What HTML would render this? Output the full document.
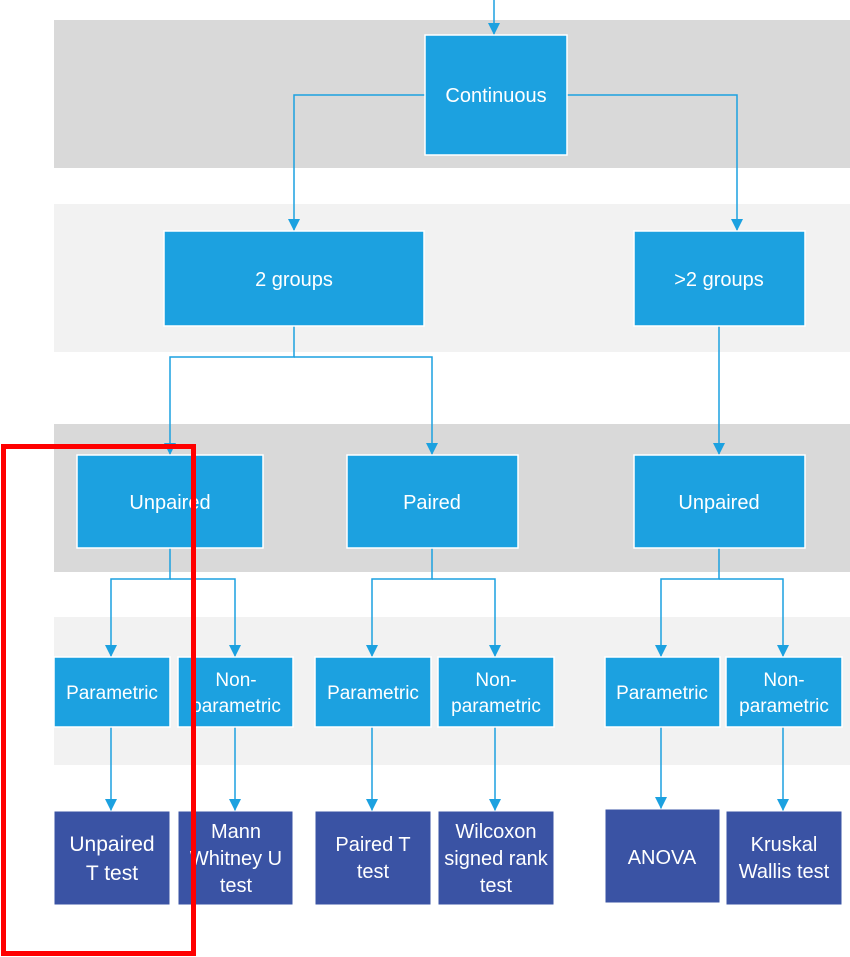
<!DOCTYPE html>
<html><head><meta charset="utf-8"><style>
html,body{margin:0;padding:0;background:#fff;}
svg{display:block;}
text{font-family:"Liberation Sans",sans-serif;font-size:20px;fill:#fff;text-anchor:middle;}
</style></head><body>
<svg width="850" height="957" viewBox="0 0 850 957" xmlns="http://www.w3.org/2000/svg">
<defs>
<marker id="a" viewBox="0 0 12 12" refX="12" refY="6" markerWidth="12" markerHeight="12" markerUnits="userSpaceOnUse" orient="auto">
<path d="M0,0 L12,6 L0,12 Z" fill="#1ca1e0"/>
</marker>
</defs>
<rect x="54" y="20" width="796" height="148" fill="#d9d9d9"/>
<rect x="54" y="204" width="796" height="148" fill="#f2f2f2"/>
<rect x="54" y="424" width="796" height="148" fill="#d9d9d9"/>
<rect x="54" y="617" width="796" height="148" fill="#f2f2f2"/>
<g fill="none" stroke="#1ca1e0" stroke-width="1.5">
<path d="M494,0 V35" marker-end="url(#a)"/>
<path d="M425,95 H294 V231" marker-end="url(#a)"/>
<path d="M567,95 H737 V231" marker-end="url(#a)"/>
<path d="M294,326 V357 H170 V455" marker-end="url(#a)"/>
<path d="M294,357 H432 V455" marker-end="url(#a)"/>
<path d="M719,326 V455" marker-end="url(#a)"/>
<path d="M170,548 V579 H111 V657" marker-end="url(#a)"/>
<path d="M170,579 H235 V657" marker-end="url(#a)"/>
<path d="M432,548 V579 H372 V657" marker-end="url(#a)"/>
<path d="M432,579 H495 V657" marker-end="url(#a)"/>
<path d="M719,548 V579 H661 V657" marker-end="url(#a)"/>
<path d="M719,579 H783 V657" marker-end="url(#a)"/>
<path d="M111,727 V811" marker-end="url(#a)"/>
<path d="M235,727 V811" marker-end="url(#a)"/>
<path d="M372,727 V811" marker-end="url(#a)"/>
<path d="M495,727 V811" marker-end="url(#a)"/>
<path d="M661,727 V809" marker-end="url(#a)"/>
<path d="M783,727 V811" marker-end="url(#a)"/>
</g>
<g fill="#1ca1e0" stroke="#fff" stroke-width="1.5">
<rect x="425" y="35" width="142" height="120"/>
<rect x="164" y="231" width="260" height="95"/>
<rect x="634" y="231" width="171" height="95"/>
<rect x="77" y="455" width="186" height="93"/>
<rect x="347" y="455" width="171" height="93"/>
<rect x="634" y="455" width="171" height="93"/>
<rect x="54" y="657" width="116" height="70"/>
<rect x="178" y="657" width="115" height="70"/>
<rect x="315" y="657" width="116" height="70"/>
<rect x="438" y="657" width="116" height="70"/>
<rect x="605" y="657" width="115" height="70"/>
<rect x="726" y="657" width="116" height="70"/>
</g>
<g fill="#3a53a4" stroke="#fff" stroke-width="1">
<rect x="54" y="811" width="116" height="94"/>
<rect x="178" y="811" width="115" height="94"/>
<rect x="315" y="811" width="116" height="94"/>
<rect x="438" y="811" width="116" height="94"/>
<rect x="605" y="809" width="115" height="94"/>
<rect x="726" y="811" width="116" height="94"/>
</g>
<text x="496" y="102">Continuous</text>
<text x="294" y="286">2 groups</text>
<text x="719" y="286">&gt;2 groups</text>
<text x="170" y="509">Unpaired</text>
<text x="432" y="509">Paired</text>
<text x="719" y="509">Unpaired</text>
<text x="112" y="699" style="font-size:19px">Parametric</text>
<text x="236" y="686" style="font-size:19px">Non-</text>
<text x="236" y="712" style="font-size:19px">parametric</text>
<text x="373" y="699" style="font-size:19px">Parametric</text>
<text x="496" y="686" style="font-size:19px">Non-</text>
<text x="496" y="712" style="font-size:19px">parametric</text>
<text x="662" y="699" style="font-size:19px">Parametric</text>
<text x="784" y="686" style="font-size:19px">Non-</text>
<text x="784" y="712" style="font-size:19px">parametric</text>
<text x="112" y="851" style="font-size:21px">Unpaired</text>
<text x="112" y="880" style="font-size:21px">T test</text>
<text x="236" y="838">Mann</text>
<text x="236" y="865">Whitney U</text>
<text x="236" y="892">test</text>
<text x="373" y="851">Paired T</text>
<text x="373" y="878">test</text>
<text x="496" y="838">Wilcoxon</text>
<text x="496" y="865">signed rank</text>
<text x="496" y="892">test</text>
<text x="662" y="864">ANOVA</text>
<text x="784" y="851">Kruskal</text>
<text x="784" y="878">Wallis test</text>
<rect x="3.5" y="446.5" width="190" height="507" fill="none" stroke="#ff0000" stroke-width="5"/>
</svg>
</body></html>
